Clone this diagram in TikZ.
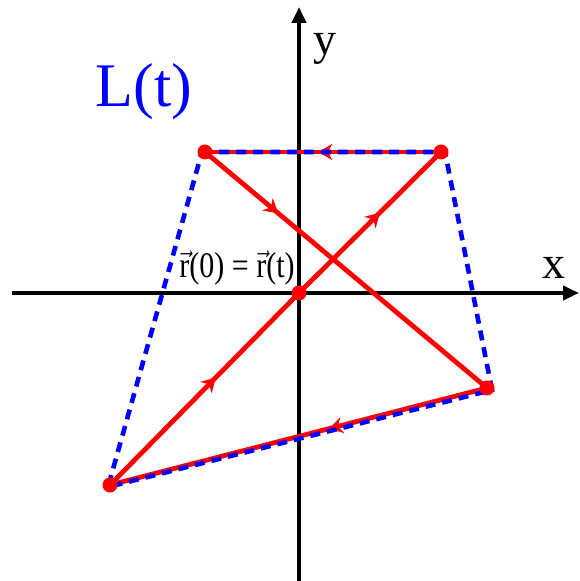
\documentclass[tikz,border=0pt]{standalone}
\usepackage{fontspec}
\setmainfont{Liberation Serif}
\usepackage{tikz}
\usetikzlibrary{arrows.meta}
\usetikzlibrary{decorations.markings}
\tikzset{
  eixo/.style={line width=2pt, -{Triangle[length=8pt, width=7pt]}},
  trajeto/.style={red, line width=2.4pt},
  laco/.style={blue, line width=2.3pt, dash pattern=on 5pt off 3.5pt},
  ponto/.style={circle, fill=red, inner sep=0pt, minimum size=7.5pt},
  meio/.style={postaction={decorate, decoration={markings,
      mark=at position #1 with {\arrow{Stealth[length=7pt, width=8pt]}}}}},
}

\begin{document}
\begin{tikzpicture}[x=0.5pt, y=0.5pt]
  \useasboundingbox (-299,-288) rectangle (280,293);
  \coordinate (xi) at (-287,0);
  \coordinate (xf) at (280,0);
  \coordinate (yi) at (0,-288);
  \coordinate (yf) at (0,286);
  \draw[eixo] (xi) -- (xf);
  \draw[eixo] (yi) -- (yf);
  \node[font=\fontsize{23}{26}\selectfont] (xl) at (255,25) {x};
  \node[font=\fontsize{23}{26}\selectfont] (yl) at (26,244) {y};
  \node[blue, font=\fontsize{31}{34}\selectfont] (lt) at (-155,201) {L(t)};
  \node[font=\fontsize{15}{18}\selectfont, yscale=1.2] (r0) at (-62,25)
    {$\vec{\textrm{r}}$(0) = $\vec{\textrm{r}}$(t)};
  % vertices of the path
  \coordinate (o) at (0,0);
  \coordinate (a) at (-94,141);
  \coordinate (b) at (142,141);
  \coordinate (c) at (188,-95);
  \coordinate (d) at (-189,-192);
  % L(t) polygon
  \coordinate (ab) at (-97,141);
  \coordinate (bb) at (146,141);
  \coordinate (cb) at (193,-97);
  \coordinate (db) at (-191,-194);
  \draw[trajeto, meio=0.57] (o) -- (b);
  \draw[trajeto, meio=0.52] (b) -- (a);
  \draw[trajeto, meio=0.26] (a) -- (c);
  \draw[trajeto, meio=0.42] (c) -- (d);
  \draw[trajeto, meio=0.56] (d) -- (o);
  \draw[laco] (ab) -- (bb) -- (cb) -- (db) -- cycle;
  \foreach \p in {o, a, b, c, d}
    \node[ponto] (p\p) at (\p) {};
\end{tikzpicture}
\end{document}
